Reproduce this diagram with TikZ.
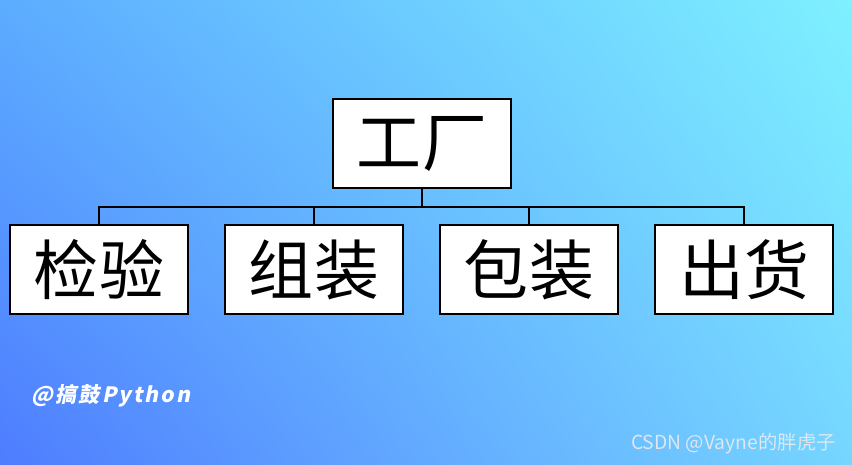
\documentclass[tikz,border=0pt]{standalone}
\usepackage{fontspec}
\usepackage{tikz}
\usetikzlibrary{shadings}
\setmainfont{Noto Sans CJK SC}
\newfontfamily\markfont[FakeSlant=0.2,LetterSpace=10]{Noto Sans CJK SC}

\definecolor{bgll}{RGB}{78,124,255}
\definecolor{bgul}{RGB}{92,172,255}
\definecolor{bgur}{RGB}{126,240,255}
\definecolor{bglr}{RGB}{118,214,255}
\definecolor{csdngray}{RGB}{222,230,240}

\begin{document}
\begin{tikzpicture}[x=0.02cm, y=0.02cm]
\tikzstyle{box}=[draw, fill=white, line width=0.6pt, minimum width=3.56cm,
  minimum height=1.78cm, inner sep=0pt, font=\fontsize{37}{40}\selectfont];
\shade[lower left=bgll, upper left=bgul, upper right=bgur, lower right=bglr]
  (0,0) rectangle (852,465);
\useasboundingbox (0,0) rectangle (852,465);
\path (422,321.5) node[box] (factory) {工厂};
\path (99,195.5) node[box] (jian) {检验};
\path (314,195.5) node[box] (zu) {组装};
\path (529,195.5) node[box] (bao) {包装};
\path (744,195.5) node[box] (chu) {出货};
\coordinate (hub) at (422,258);
\draw[line width=0.6pt]
(factory.south) -- (hub)
(jian.north) |- (hub) -| (chu.north)
(zu.north) -- (zu.north |- hub)
(bao.north) -- (bao.north |- hub)
;
\path (111,69) node[text=white, font=\markfont\bfseries\fontsize{12}{14}\selectfont] (mark) {@搞鼓Python};
\path (836,21) node[anchor=east, inner sep=0pt, text=csdngray, font=\fontsize{11}{13}\selectfont] (csdn) {CSDN @Vayne的胖虎子};
\end{tikzpicture}
\end{document}
